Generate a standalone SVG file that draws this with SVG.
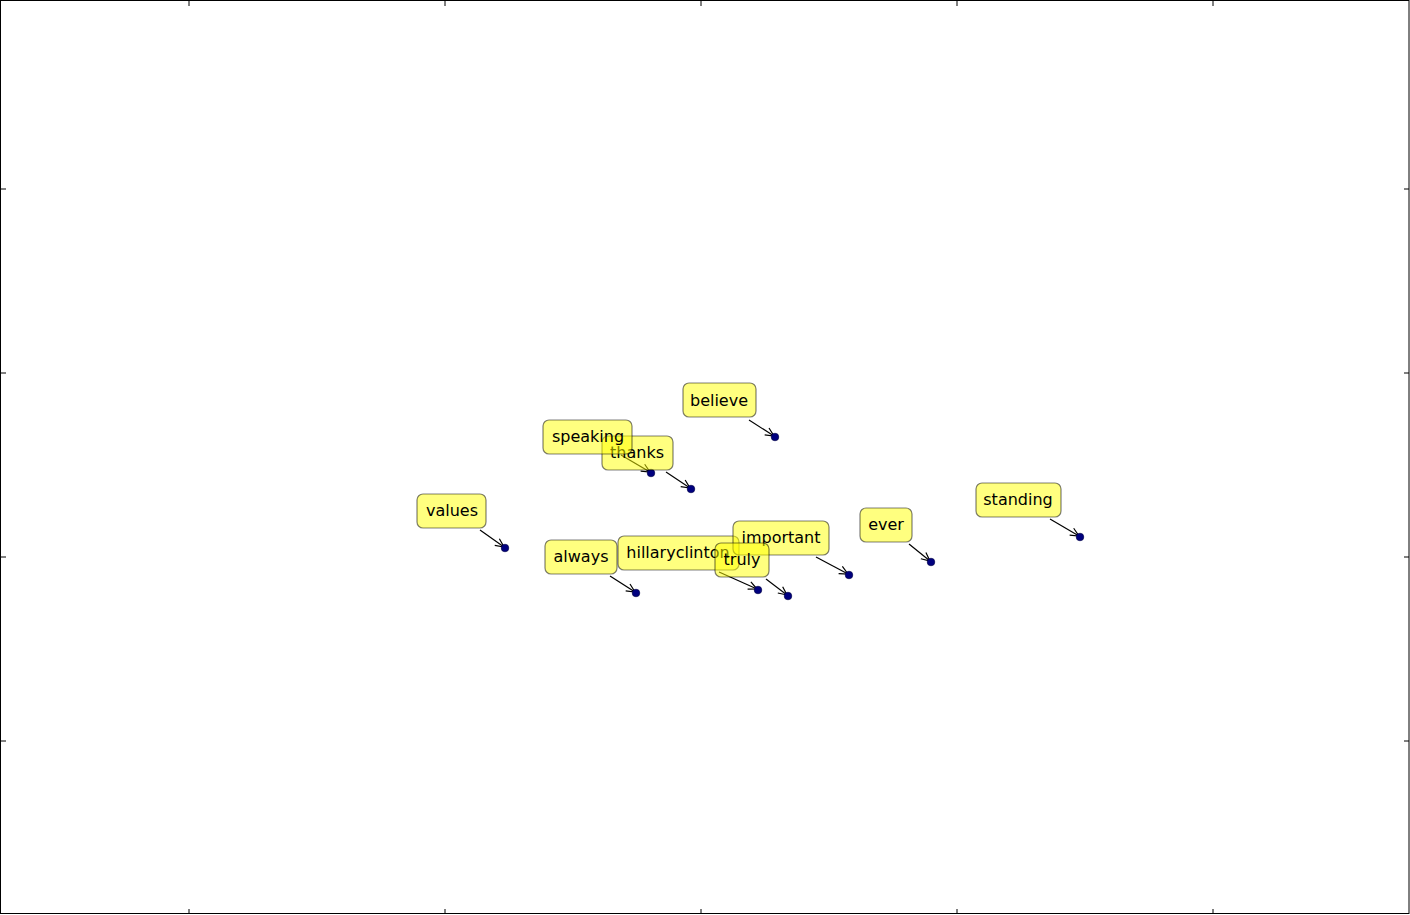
<svg xmlns="http://www.w3.org/2000/svg" width="1410" height="915" viewBox="0 0 1410 915">
<style>
.box{fill:#ffff00;fill-opacity:0.5;stroke:#000;stroke-opacity:0.5;stroke-width:1.2}
.lbl{font-family:"DejaVu Sans",sans-serif;font-size:16px;fill:#000;text-anchor:middle}
.arr{stroke:#000;stroke-width:1.2;fill:none;marker-end:url(#ah)}
.dot{fill:#00007f;stroke:#000040;stroke-width:0.6}
.tick{stroke:#000;stroke-width:1}
</style>
<defs>
<marker id="ah" viewBox="0 0 10 10" refX="9.5" refY="5" markerWidth="10" markerHeight="10" markerUnits="userSpaceOnUse" orient="auto">
<path d="M1,1 L9.5,5 L1,9" fill="none" stroke="#000" stroke-width="1.2"/>
</marker>
</defs>
<rect x="0" y="0" width="1410" height="915" fill="#fff"/>
<g id="axes">
<rect x="0.5" y="0.5" width="1408.5" height="913" fill="none" stroke="#000" stroke-width="1"/>
<path class="tick" d="M189,1v5M445,1v5M701,1v5M957,1v5M1213,1v5M189,914v-5M445,914v-5M701,914v-5M957,914v-5M1213,914v-5M1,189h5M1,373h5M1,557h5M1,741h5M1409,189h-5M1409,373h-5M1409,557h-5M1409,741h-5"/>
</g>
<g id="connectors">
<line class="arr" x1="749" y1="420" x2="774" y2="436"/>
<line class="arr" x1="666" y1="472" x2="690" y2="488"/>
<line class="arr" x1="621" y1="455" x2="650" y2="472"/>
<line class="arr" x1="480" y1="530" x2="504" y2="547"/>
<line class="arr" x1="610" y1="576" x2="635" y2="592"/>
<line class="arr" x1="719" y1="572" x2="757" y2="589"/>
<line class="arr" x1="766" y1="579" x2="787" y2="595"/>
<line class="arr" x1="816" y1="557" x2="848" y2="574"/>
<line class="arr" x1="909" y1="544" x2="930" y2="561"/>
<line class="arr" x1="1050" y1="519" x2="1079" y2="536"/>
</g>
<g id="points">
<circle class="dot" cx="775" cy="437" r="3.8"/>
<circle class="dot" cx="651" cy="473" r="3.8"/>
<circle class="dot" cx="691" cy="489" r="3.8"/>
<circle class="dot" cx="505" cy="548" r="3.8"/>
<circle class="dot" cx="636" cy="593" r="3.8"/>
<circle class="dot" cx="758" cy="590" r="3.8"/>
<circle class="dot" cx="788" cy="596" r="3.8"/>
<circle class="dot" cx="849" cy="575" r="3.8"/>
<circle class="dot" cx="931" cy="562" r="3.8"/>
<circle class="dot" cx="1080" cy="537" r="3.8"/>
</g>
<g id="believe"><rect class="box" x="683" y="383" width="73" height="34" rx="6"/><text class="lbl" x="719" y="406">believe</text></g>
<g id="thanks"><rect class="box" x="602" y="436" width="71" height="34" rx="6"/><text class="lbl" x="637" y="458">thanks</text></g>
<g id="speaking"><rect class="box" x="543" y="420" width="89" height="34" rx="6"/><text class="lbl" x="588" y="442">speaking</text></g>
<g id="values"><rect class="box" x="417" y="494" width="69" height="34" rx="6"/><text class="lbl" x="452" y="516">values</text></g>
<g id="always"><rect class="box" x="545" y="540" width="72" height="34" rx="6"/><text class="lbl" x="581" y="562">always</text></g>
<g id="hillaryclinton"><rect class="box" x="618" y="536" width="121" height="34" rx="6"/><text class="lbl" x="678" y="558">hillaryclinton</text></g>
<g id="important"><rect class="box" x="733" y="521" width="96" height="34" rx="6"/><text class="lbl" x="781" y="543">important</text></g>
<g id="truly"><rect class="box" x="715" y="543" width="54" height="34" rx="6"/><text class="lbl" x="742" y="565">truly</text></g>
<g id="ever"><rect class="box" x="860" y="508" width="52" height="34" rx="6"/><text class="lbl" x="886" y="530">ever</text></g>
<g id="standing"><rect class="box" x="976" y="483" width="85" height="34" rx="6"/><text class="lbl" x="1018" y="505">standing</text></g>
</svg>
